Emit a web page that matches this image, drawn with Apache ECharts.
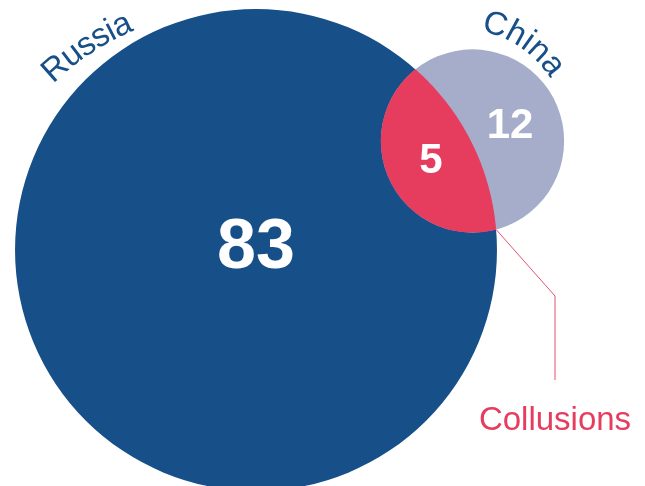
<!DOCTYPE html>
<html>
<head>
<meta charset="utf-8">
<script src="https://cdn.jsdelivr.net/npm/echarts@6/dist/echarts.min.js"></script>
<style>
  html, body { margin: 0; padding: 0; background: #ffffff; }
  #chart { width: 645px; height: 486px; }
</style>
</head>
<body>
<div id="chart"></div>
<script>
// Venn counts: cases exclusive to each set, then the cases shared by both
const setNames = ['Russia', 'China'];
const exclusiveCounts = [83, 12];
const sharedCount = 5;
const sharedName = 'Collusions';

// Layout, in chart units (the hidden axes map 1 unit to 1 px)
const layout = {
  radiusPerSqrt: 26.45,                 // circle radius = k * sqrt(count)
  centers: [[256, 250], [472.5, 141]],
  valueLabelPos: [[256, 249], [510, 126], [431, 161]],
  nameArcs: [
    { center: [233, 268], radius: 266.5, midDeg: 123.4, size: 33, spacing: 0 },
    { center: [461, 135], radius: 114.8, midDeg: 55.7, size: 33, spacing: 1.4 }
  ],
  leaderBend: [555, 296],
  leaderEnd: [555, 380],
  sharedLabelPos: [555, 421]
};

const colors = {
  sets: ['#174F89', '#A6ADCB'],
  shared: '#E63C5E',
  names: '#174F89',
  leader: '#E8506E',
  values: '#ffffff'
};
const FONT = '"Liberation Sans", Arial, Helvetica, sans-serif';

const measureCtx = document.createElement('canvas').getContext('2d');

// Place each character of a label along a circular arc (clockwise reading)
function arcText(text, cx, cy, R, midDeg, size, spacing, fill) {
  const font = size + 'px ' + FONT;
  measureCtx.font = font;
  const chars = Array.from(text);
  const widths = chars.map(c => measureCtx.measureText(c).width);
  const total = widths.reduce((a, b) => a + b, 0) + spacing * (chars.length - 1);
  const mid = midDeg * Math.PI / 180;
  let cum = 0;
  return chars.map((c, i) => {
    const s = cum + widths[i] / 2 - total / 2;
    cum += widths[i] + spacing;
    const phi = mid - s / R;
    return {
      type: 'text',
      x: cx + R * Math.cos(phi),
      y: cy - R * Math.sin(phi),
      rotation: phi - Math.PI / 2,
      z2: 5,
      style: { text: c, font: font, fill: fill, align: 'center', verticalAlign: 'middle' }
    };
  });
}

// Sample an arc of circle (c, r) from angle a0 to a1, passing through angle `via`
function sampleArc(c, r, a0, a1, via, n) {
  let d = Math.atan2(Math.sin(a1 - a0), Math.cos(a1 - a0));
  const midA = a0 + d / 2;
  if (Math.cos(midA - via) < 0) d = d - Math.sign(d) * 2 * Math.PI;
  const pts = [];
  for (let i = 0; i <= n; i++) {
    const a = a0 + d * i / n;
    pts.push([c[0] + r * Math.cos(a), c[1] + r * Math.sin(a)]);
  }
  return pts;
}

function geometry(api) {
  const circles = exclusiveCounts.map((v, i) => {
    const c = api.coord(layout.centers[i]);
    const r = api.size([layout.radiusPerSqrt * Math.sqrt(v), 0])[0];
    return { c: c, r: r };
  });
  const c1 = circles[0].c, r1 = circles[0].r, c2 = circles[1].c, r2 = circles[1].r;
  const dx = c2[0] - c1[0], dy = c2[1] - c1[1];
  const d = Math.hypot(dx, dy);
  const a = (r1 * r1 - r2 * r2 + d * d) / (2 * d);
  const h = Math.sqrt(Math.max(0, r1 * r1 - a * a));
  const px = c1[0] + a * dx / d, py = c1[1] + a * dy / d;
  const P = [px - h * dy / d, py + h * dx / d];
  const Q = [px + h * dy / d, py - h * dx / d];
  return { circles, P, Q };
}

function renderItem(params, api) {
  const idx = params.dataIndex;
  const g = geometry(api);
  const children = [];
  if (idx < 2) {
    const circ = g.circles[idx];
    children.push({
      type: 'circle', z2: idx,
      shape: { cx: circ.c[0], cy: circ.c[1], r: circ.r },
      style: { fill: colors.sets[idx] }
    });
    const arc = layout.nameArcs[idx];
    const ac = api.coord(arc.center);
    const ar = api.size([arc.radius, 0])[0];
    arcText(setNames[idx], ac[0], ac[1], ar, arc.midDeg, arc.size, arc.spacing, colors.names)
      .forEach(t => children.push(t));
  } else {
    const c1 = g.circles[0].c, r1 = g.circles[0].r;
    const c2 = g.circles[1].c, r2 = g.circles[1].r;
    const ang = (c, p) => Math.atan2(p[1] - c[1], p[0] - c[0]);
    const towards1 = Math.atan2(c1[1] - c2[1], c1[0] - c2[0]);
    const towards2 = Math.atan2(c2[1] - c1[1], c2[0] - c1[0]);
    const arcA = sampleArc(c2, r2, ang(c2, g.P), ang(c2, g.Q), towards1, 80);
    const arcB = sampleArc(c1, r1, ang(c1, g.Q), ang(c1, g.P), towards2, 80);
    children.push({
      type: 'polygon', z2: 3,
      shape: { points: arcA.concat(arcB) },
      style: { fill: colors.shared }
    });
    // Leader from the lower crossing point down to the caption
    const low = g.P[1] > g.Q[1] ? g.P : g.Q;
    children.push({
      type: 'polyline', z2: 3,
      shape: { points: [low, api.coord(layout.leaderBend), api.coord(layout.leaderEnd)] },
      style: { stroke: colors.leader, lineWidth: 1, fill: null }
    });
    const lp = api.coord(layout.sharedLabelPos);
    children.push({
      type: 'text', x: lp[0], y: lp[1], z2: 5,
      style: { text: sharedName, font: '33px ' + FONT, fill: colors.shared, align: 'center', verticalAlign: 'middle' }
    });
  }
  // Count label inside the region
  const vp = api.coord(layout.valueLabelPos[idx]);
  const big = idx === 0;
  children.push({
    type: 'text', x: vp[0], y: vp[1], z2: 6,
    style: {
      text: String(api.value(1)),
      font: 'bold ' + (big ? 70 : 42) + 'px ' + FONT,
      fill: colors.values, align: 'center', verticalAlign: 'middle'
    }
  });
  return { type: 'group', children: children };
}

const regionCounts = exclusiveCounts.concat([sharedCount]);

const chart = echarts.init(document.getElementById('chart'), null, { renderer: 'canvas' });
chart.setOption({
  animation: false,
  backgroundColor: '#ffffff',
  grid: { left: 0, right: 0, top: 0, bottom: 0 },
  xAxis: { type: 'value', min: 0, max: 645, show: false },
  yAxis: { type: 'value', min: 0, max: 486, inverse: true, show: false },
  series: [{
    type: 'custom',
    renderItem: renderItem,
    clip: false,
    data: regionCounts.map((v, i) => [i, v])
  }]
});
</script>
</body>
</html>
